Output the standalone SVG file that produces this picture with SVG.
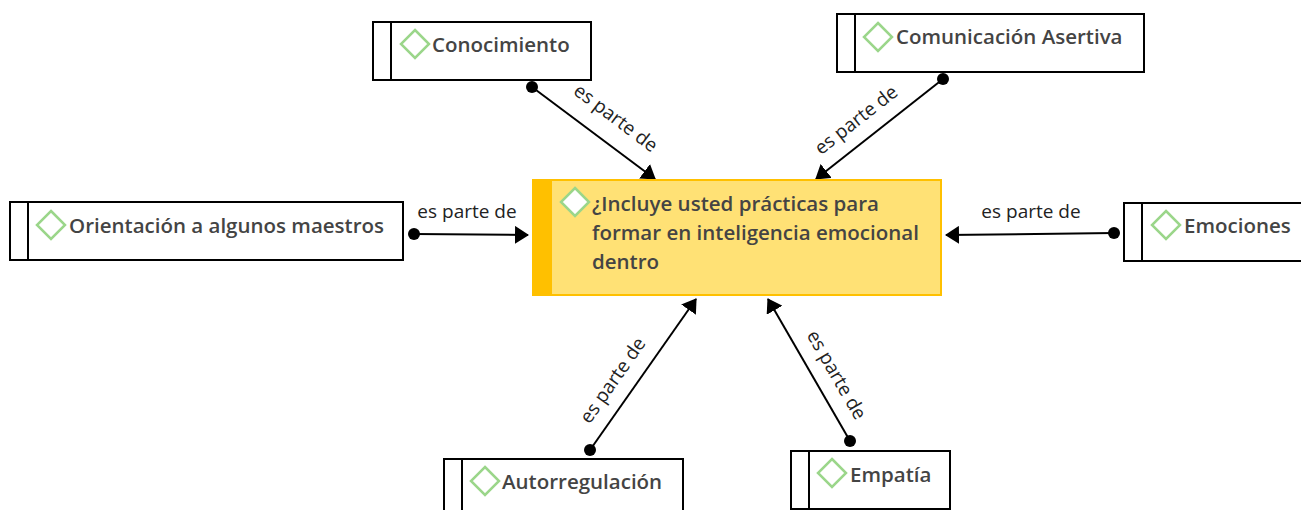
<svg xmlns="http://www.w3.org/2000/svg" width="1301" height="510" viewBox="0 0 1301 510">
<style>
.box{fill:#fff;stroke:#000;stroke-width:2}
.sep{stroke:#000;stroke-width:2;fill:none}
.dia{fill:#fff;stroke:#9bd68a;stroke-width:2.5}
.t{font-family:"Open Sans","Noto Sans",sans-serif;font-size:20.5px;font-weight:600;fill:#444}
.l{font-family:"Open Sans","Noto Sans",sans-serif;font-size:19px;fill:#222;text-anchor:middle}
.c{stroke:#000;stroke-width:2;fill:none;marker-end:url(#arr)}
.d{fill:#000}
</style>
<defs>
<marker id="arr" markerUnits="userSpaceOnUse" markerWidth="14" markerHeight="18" refX="13" refY="9" orient="auto"><path d="M0 0L14 9L0 18Z" fill="#000"/></marker>
</defs>
<g id="connectors">
<path class="c" d="M532 87L655 179"/><circle class="d" cx="532" cy="87" r="6"/>
<path class="c" d="M943 79L816 179"/><circle class="d" cx="943" cy="79" r="6"/>
<path class="c" d="M414 234L528 235"/><circle class="d" cx="414" cy="234" r="6"/>
<path class="c" d="M1114 233L946 235"/><circle class="d" cx="1114" cy="233" r="6"/>
<path class="c" d="M590 450L696 299"/><circle class="d" cx="590" cy="450" r="6"/>
<path class="c" d="M850 441L768 299"/><circle class="d" cx="850" cy="441" r="6"/>
<text class="l" transform="translate(612 123) rotate(37)">es parte de</text>
<text class="l" transform="translate(860 125) rotate(-38)">es parte de</text>
<text class="l" x="467" y="218">es parte de</text>
<text class="l" x="1031" y="218">es parte de</text>
<text class="l" transform="translate(618 384) rotate(-55)">es parte de</text>
<text class="l" transform="translate(831 378) rotate(60)">es parte de</text>
</g>
<g id="n-center">
<rect x="533" y="180" width="408" height="115" fill="#ffe175" stroke="#ffc000" stroke-width="2"/>
<rect x="533" y="180" width="19" height="115" fill="#ffc000"/>
<path class="dia" d="M575 188L589 202L575 216L561 202Z"/>
<text class="t"><tspan x="592" y="211">¿Incluye usted prácticas para</tspan><tspan x="592" y="240">formar en inteligencia emocional</tspan><tspan x="592" y="269">dentro</tspan></text>
</g>
<g id="n-conocimiento">
<rect class="box" x="373" y="22" width="218" height="58"/><path class="sep" d="M391 22V80"/>
<path class="dia" d="M415 30L429 44L415 58L401 44Z"/>
<text class="t" x="432" y="52">Conocimiento</text>
</g>
<g id="n-comunicacion">
<rect class="box" x="837" y="14" width="307" height="58"/><path class="sep" d="M855 14V72"/>
<path class="dia" d="M878 23L892 37L878 51L864 37Z"/>
<text class="t" x="896" y="44">Comunicación Asertiva</text>
</g>
<g id="n-orientacion">
<rect class="box" x="10" y="202" width="393" height="58"/><path class="sep" d="M28 202V260"/>
<path class="dia" d="M51 211L65 225L51 239L37 225Z"/>
<text class="t" x="69" y="233">Orientación a algunos maestros</text>
</g>
<g id="n-emociones">
<rect class="box" x="1124" y="203" width="190" height="58"/><path class="sep" d="M1142 203V261"/>
<path class="dia" d="M1166 211L1180 225L1166 239L1152 225Z"/>
<text class="t" x="1184" y="233">Emociones</text>
</g>
<g id="n-autorregulacion">
<rect class="box" x="444" y="459" width="239" height="58"/><path class="sep" d="M462 459V517"/>
<path class="dia" d="M485 467L499 481L485 495L471 481Z"/>
<text class="t" x="502" y="489">Autorregulación</text>
</g>
<g id="n-empatia">
<rect class="box" x="791" y="451" width="159" height="58"/><path class="sep" d="M809 451V509"/>
<path class="dia" d="M832 459L846 473L832 487L818 473Z"/>
<text class="t" x="850" y="482">Empatía</text>
</g>
</svg>
